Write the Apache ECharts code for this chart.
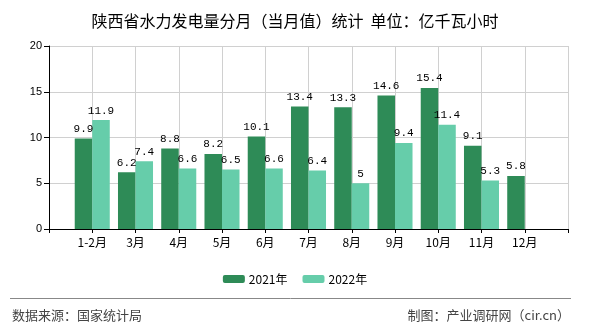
<!DOCTYPE html>
<html>
<head>
<meta charset="utf-8">
<script src="https://cdn.jsdelivr.net/npm/echarts@6/dist/echarts.min.js"></script>
<style>
html,body{margin:0;padding:0;background:#fff;}
#c{width:590px;height:330px;}
</style>
</head>
<body>
<div id="c"></div>
<script>
var categories = ['1-2月','3月','4月','5月','6月','7月','8月','9月','10月','11月','12月'];
var values2021 = [9.9, 6.2, 8.8, 8.2, 10.1, 13.4, 13.3, 14.6, 15.4, 9.1, 5.8];
var values2022 = [11.9, 7.4, 6.6, 6.5, 6.6, 6.4, 5, 9.4, 11.4, 5.3, null];
var yTicks = [0, 5, 10, 15, 20];
var seriesNames = ['2021年', '2022年'];

var cats = [''].concat(categories).concat(['']);
function pad(a){ return [null].concat(a).concat([null]); }

var chart = echarts.init(document.getElementById('c'), null, {renderer:'canvas'});
var labelStyle = {
  show: true, position: 'top', distance: 4,
  color: '#000', fontFamily: 'Liberation Mono', fontSize: 11,
  formatter: function(p){ return p.value == null ? '' : String(p.value); }
};
chart.setOption({
  animation: false,
  backgroundColor: '#fff',
  title: {
    text: '陕西省水力发电量分月（当月值）统计  单位：亿千瓦小时',
    left: 'center', top: 8,
    textStyle: {fontFamily: 'Noto Sans CJK SC', fontSize: 16, fontWeight: 'normal', color: '#000'}
  },
  legend: {
    data: seriesNames,
    left: 'center', top: 268,
    itemWidth: 22, itemHeight: 8, itemGap: 15,
    textStyle: {fontFamily: 'Noto Sans CJK SC', fontSize: 12, color: '#000', padding: [0,0,0,-1]}
  },
  grid: {left: 49, right: 22, top: 46, bottom: 101, containLabel: false},
  xAxis: {
    type: 'category',
    data: cats,
    boundaryGap: false,
    axisLine: {lineStyle: {color: '#000', width: 1}},
    axisTick: {show: true, length: 4, interval: 0, lineStyle: {color: '#000'}},
    axisLabel: {interval: 0, margin: 7, color: '#000', fontFamily: 'Noto Sans CJK SC', fontSize: 12},
    splitLine: {show: true, interval: 0, lineStyle: {color: '#d0d0d0'}}
  },
  yAxis: {
    type: 'value',
    min: yTicks[0], max: yTicks[yTicks.length-1], interval: 5,
    axisLine: {show: true, lineStyle: {color: '#000', width: 1}},
    axisTick: {show: true, length: 5, lineStyle: {color: '#000'}},
    axisLabel: {margin: 7, color: '#000', fontFamily: 'Liberation Sans', fontSize: 11},
    splitLine: {show: true, lineStyle: {color: '#d0d0d0'}}
  },
  series: [
    {name: seriesNames[0], type: 'bar', data: pad(values2021), barGap: 0, barCategoryGap: '19%',
     itemStyle: {color: '#2E8B57'}, label: labelStyle},
    {name: seriesNames[1], type: 'bar', data: pad(values2022), barGap: 0, barCategoryGap: '19%',
     itemStyle: {color: '#66CDAA'}, label: labelStyle}
  ],
  graphic: [
    {type: 'line', shape: {x1: 10, y1: 298.5, x2: 571, y2: 298.5}, style: {stroke: '#888', lineWidth: 1}},
    {type: 'text', left: 12, top: 309, style: {text: '数据来源：国家统计局', fontFamily: 'Noto Sans CJK SC', fontSize: 13, fill: '#444'}},
    {type: 'text', right: 20, top: 309, style: {text: '制图：产业调研网（cir.cn）', fontFamily: 'Noto Sans CJK SC', fontSize: 13, fill: '#444'}}
  ]
});
</script>
</body>
</html>
